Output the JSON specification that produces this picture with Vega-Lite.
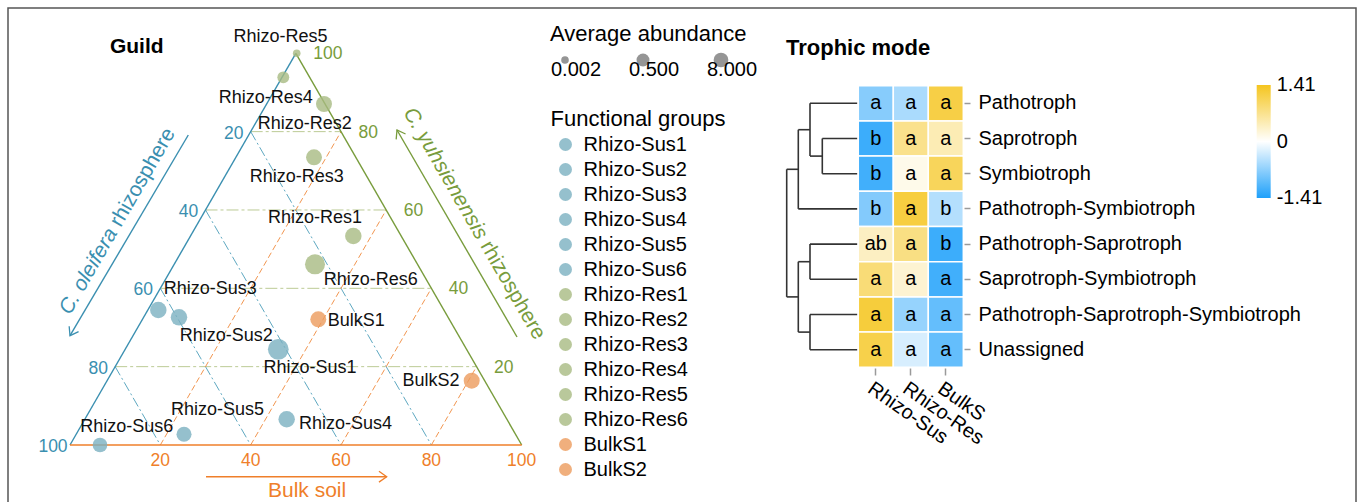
{
  "$schema": "https://vega.github.io/schema/vega-lite/v6.json",
  "width": 1360,
  "height": 502,
  "autosize": {"type": "fit", "contains": "padding"},
  "padding": {"left": 8, "top": 8, "right": 4, "bottom": -3},
  "background": "white",
  "config": {
    "font": "Liberation Sans",
    "view": {"stroke": "#555555", "strokeWidth": 1.5},
    "legend": {"symbolBaseFillColor": "#5a5a5a", "symbolBaseStrokeColor": "transparent"}
  },
  "datasets": {
    "lines": [
      {"kind": "h", "x": 10, "y": 20, "x2": 90, "y2": 20},
      {"kind": "h", "x": 20, "y": 40, "x2": 80, "y2": 40},
      {"kind": "h", "x": 30, "y": 60, "x2": 70, "y2": 60},
      {"kind": "h", "x": 40, "y": 80, "x2": 60, "y2": 80},
      {"kind": "b", "x": 40, "y": 80, "x2": 80, "y2": 0},
      {"kind": "b", "x": 30, "y": 60, "x2": 60, "y2": 0},
      {"kind": "b", "x": 20, "y": 40, "x2": 40, "y2": 0},
      {"kind": "b", "x": 10, "y": 20, "x2": 20, "y2": 0},
      {"kind": "o", "x": 20, "y": 0, "x2": 60, "y2": 80},
      {"kind": "o", "x": 40, "y": 0, "x2": 70, "y2": 60},
      {"kind": "o", "x": 60, "y": 0, "x2": 80, "y2": 40},
      {"kind": "o", "x": 80, "y": 0, "x2": 90, "y2": 20},
      {"kind": "eL", "x": 0, "y": 0, "x2": 50, "y2": 100},
      {"kind": "eR", "x": 50, "y": 100, "x2": 100, "y2": 0},
      {"kind": "eB", "x": 0, "y": 0, "x2": 100, "y2": 0},
      {"kind": "aO", "x": 26.19, "y": 79.14, "x2": 0, "y2": 27.9},
      {"kind": "aY", "x": 98.96, "y": 27.57, "x2": 72.39, "y2": 80.42},
      {"kind": "aB", "x": 30.11, "y": -8.09, "x2": 70.11, "y2": -8.09}
    ],
    "heads": [
      {"kind": "aO", "x": 0, "y": 27.9},
      {"kind": "aY", "x": 72.39, "y": 80.42},
      {"kind": "aB", "x": 70.11, "y": -8.09}
    ],
    "pts": [
      {"group": "Rhizo-Sus1", "x": 46.11, "y": 24.43, "abundance": 30},
      {"group": "Rhizo-Sus2", "x": 24.13, "y": 32.6, "abundance": 13.7},
      {"group": "Rhizo-Sus3", "x": 19.55, "y": 34.47, "abundance": 13.7},
      {"group": "Rhizo-Sus4", "x": 47.97, "y": 6.56, "abundance": 13.7},
      {"group": "Rhizo-Sus5", "x": 25.24, "y": 2.73, "abundance": 9.1},
      {"group": "Rhizo-Sus6", "x": 6.64, "y": 0, "abundance": 8},
      {"group": "Rhizo-Res1", "x": 62.72, "y": 53.36, "abundance": 13.7},
      {"group": "Rhizo-Res2", "x": 56.23, "y": 87.06, "abundance": 12},
      {"group": "Rhizo-Res3", "x": 54.02, "y": 73.45, "abundance": 12},
      {"group": "Rhizo-Res4", "x": 47.22, "y": 93.87, "abundance": 0.38},
      {"group": "Rhizo-Res5", "x": 50.19, "y": 100, "abundance": 0.002},
      {"group": "Rhizo-Res6", "x": 54.24, "y": 46.13, "abundance": 27},
      {"group": "BulkS1", "x": 54.97, "y": 32.09, "abundance": 12},
      {"group": "BulkS2", "x": 88.93, "y": 16.42, "abundance": 12}
    ],
    "plabels": [
      {"label": "Rhizo-Res5", "x": 46.6, "y": 104.24},
      {"label": "Rhizo-Res4", "x": 43.35, "y": 88.51},
      {"label": "Rhizo-Res2", "x": 51.98, "y": 81.95},
      {"label": "Rhizo-Res3", "x": 50.19, "y": 68.5},
      {"label": "Rhizo-Res1", "x": 54.24, "y": 57.88},
      {"label": "Rhizo-Res6", "x": 66.59, "y": 42.12},
      {"label": "BulkS1", "x": 63.36, "y": 31.66},
      {"label": "BulkS2", "x": 79.92, "y": 16.42},
      {"label": "Rhizo-Sus3", "x": 31.06, "y": 39.83},
      {"label": "Rhizo-Sus2", "x": 34.6, "y": 27.83},
      {"label": "Rhizo-Sus1", "x": 53.13, "y": 19.58},
      {"label": "Rhizo-Sus5", "x": 32.65, "y": 8.94},
      {"label": "Rhizo-Sus4", "x": 60.99, "y": 5.36},
      {"label": "Rhizo-Sus6", "x": 12.55, "y": 4.67}
    ],
    "tlabels": [
      {"axis": "ole", "label": "20", "x": 40, "y": 80},
      {"axis": "ole", "label": "40", "x": 30, "y": 60},
      {"axis": "ole", "label": "60", "x": 20, "y": 40},
      {"axis": "ole", "label": "80", "x": 10, "y": 20},
      {"axis": "ole", "label": "100", "x": 0, "y": 0},
      {"axis": "yuh", "label": "100", "x": 50, "y": 100},
      {"axis": "yuh", "label": "80", "x": 60, "y": 80},
      {"axis": "yuh", "label": "60", "x": 70, "y": 60},
      {"axis": "yuh", "label": "40", "x": 80, "y": 40},
      {"axis": "yuh", "label": "20", "x": 90, "y": 20},
      {"axis": "bulk", "label": "20", "x": 20, "y": 0},
      {"axis": "bulk", "label": "40", "x": 40, "y": 0},
      {"axis": "bulk", "label": "60", "x": 60, "y": 0},
      {"axis": "bulk", "label": "80", "x": 80, "y": 0},
      {"axis": "bulk", "label": "100", "x": 100, "y": 0}
    ],
    "titles": [
      {"kind": "guild", "label": "Guild", "x": 14.77, "y": 101.69},
      {"kind": "ole1", "label": "C. oleifera", "x": -1.15, "y": 33.75},
      {"kind": "ole2", "label": "rhizosphere", "x": 10.1, "y": 56.19},
      {"kind": "yuh1", "label": "C. yuhsienensis", "x": 74.87, "y": 85.68},
      {"kind": "yuh2", "label": "rhizosphere", "x": 91.92, "y": 51.62},
      {"kind": "bulk", "label": "Bulk soil", "x": 43.83, "y": -11.67}
    ],
    "dendro": [
      {"h": 0, "p": 1, "h2": 4.73, "p2": 1},
      {"h": 0, "p": 2, "h2": 3.5, "p2": 2},
      {"h": 0, "p": 3, "h2": 3.5, "p2": 3},
      {"h": 0, "p": 4, "h2": 5.9, "p2": 4},
      {"h": 0, "p": 5, "h2": 4.73, "p2": 5},
      {"h": 0, "p": 6, "h2": 4.73, "p2": 6},
      {"h": 0, "p": 7, "h2": 4.73, "p2": 7},
      {"h": 0, "p": 8, "h2": 4.73, "p2": 8},
      {"h": 3.5, "p": 2, "h2": 3.5, "p2": 3},
      {"h": 4.73, "p": 1, "h2": 4.73, "p2": 2.5},
      {"h": 5.9, "p": 1.75, "h2": 5.9, "p2": 4},
      {"h": 4.73, "p": 5, "h2": 4.73, "p2": 6},
      {"h": 4.73, "p": 7, "h2": 4.73, "p2": 8},
      {"h": 5.9, "p": 5.5, "h2": 5.9, "p2": 7.5},
      {"h": 7.06, "p": 2.875, "h2": 7.06, "p2": 6.5},
      {"h": 3.5, "p": 2.5, "h2": 4.73, "p2": 2.5},
      {"h": 4.73, "p": 1.75, "h2": 5.9, "p2": 1.75},
      {"h": 5.9, "p": 2.875, "h2": 7.06, "p2": 2.875},
      {"h": 4.73, "p": 5.5, "h2": 5.9, "p2": 5.5},
      {"h": 4.73, "p": 7.5, "h2": 5.9, "p2": 7.5},
      {"h": 5.9, "p": 6.5, "h2": 7.06, "p2": 6.5}
    ],
    "heat": [
      {"trophic": "Pathotroph", "group": "Rhizo-Sus", "z": -0.75, "letter": "a"},
      {"trophic": "Pathotroph", "group": "Rhizo-Res", "z": -0.53, "letter": "a"},
      {"trophic": "Pathotroph", "group": "BulkS", "z": 1.16, "letter": "a"},
      {"trophic": "Saprotroph", "group": "Rhizo-Sus", "z": -1.22, "letter": "b"},
      {"trophic": "Saprotroph", "group": "Rhizo-Res", "z": 0.72, "letter": "a"},
      {"trophic": "Saprotroph", "group": "BulkS", "z": 0.47, "letter": "a"},
      {"trophic": "Symbiotroph", "group": "Rhizo-Sus", "z": -1.19, "letter": "b"},
      {"trophic": "Symbiotroph", "group": "Rhizo-Res", "z": 0.13, "letter": "a"},
      {"trophic": "Symbiotroph", "group": "BulkS", "z": 1.03, "letter": "a"},
      {"trophic": "Pathotroph-Symbiotroph", "group": "Rhizo-Sus", "z": -0.78, "letter": "b"},
      {"trophic": "Pathotroph-Symbiotroph", "group": "Rhizo-Res", "z": 1.19, "letter": "a"},
      {"trophic": "Pathotroph-Symbiotroph", "group": "BulkS", "z": -0.47, "letter": "b"},
      {"trophic": "Pathotroph-Saprotroph", "group": "Rhizo-Sus", "z": 0.38, "letter": "ab"},
      {"trophic": "Pathotroph-Saprotroph", "group": "Rhizo-Res", "z": 0.78, "letter": "a"},
      {"trophic": "Pathotroph-Saprotroph", "group": "BulkS", "z": -1.22, "letter": "b"},
      {"trophic": "Saprotroph-Symbiotroph", "group": "Rhizo-Sus", "z": 0.85, "letter": "a"},
      {"trophic": "Saprotroph-Symbiotroph", "group": "Rhizo-Res", "z": 0.28, "letter": "a"},
      {"trophic": "Saprotroph-Symbiotroph", "group": "BulkS", "z": -1.19, "letter": "a"},
      {"trophic": "Pathotroph-Saprotroph-Symbiotroph", "group": "Rhizo-Sus", "z": 1.22, "letter": "a"},
      {"trophic": "Pathotroph-Saprotroph-Symbiotroph", "group": "Rhizo-Res", "z": -0.66, "letter": "a"},
      {"trophic": "Pathotroph-Saprotroph-Symbiotroph", "group": "BulkS", "z": -0.97, "letter": "a"},
      {"trophic": "Unassigned", "group": "Rhizo-Sus", "z": 1.13, "letter": "a"},
      {"trophic": "Unassigned", "group": "Rhizo-Res", "z": -0.25, "letter": "a"},
      {"trophic": "Unassigned", "group": "BulkS", "z": -0.97, "letter": "a"}
    ]
  },
  "layer": [
    {
      "encoding": {
        "x": {"field": "x", "type": "quantitative", "scale": {"domain": [-13.726, 284.7], "nice": false, "zero": false}, "axis": null},
        "y": {"field": "y", "type": "quantitative", "scale": {"domain": [-15.32, 111.565], "nice": false, "zero": false}, "axis": null}
      },
      "layer": [
        {"data": {"name": "lines"}, "transform": [{"filter": "datum.kind == 'h'"}], "mark": {"type": "rule", "color": "#bccb95", "strokeWidth": 1, "strokeDash": [12, 3, 3, 3]}, "encoding": {"x2": {"field": "x2"}, "y2": {"field": "y2"}}},
        {"data": {"name": "lines"}, "transform": [{"filter": "datum.kind == 'b'"}], "mark": {"type": "rule", "color": "#5ea8c1", "strokeWidth": 1, "strokeDash": [10, 3, 2, 3]}, "encoding": {"x2": {"field": "x2"}, "y2": {"field": "y2"}}},
        {"data": {"name": "lines"}, "transform": [{"filter": "datum.kind == 'o'"}], "mark": {"type": "rule", "color": "#f29650", "strokeWidth": 1, "strokeDash": [6, 3]}, "encoding": {"x2": {"field": "x2"}, "y2": {"field": "y2"}}},
        {"data": {"name": "lines"}, "transform": [{"filter": "datum.kind == 'eL' || datum.kind == 'aO'"}], "mark": {"type": "rule", "color": "#3a8fb0", "strokeWidth": 1.4}, "encoding": {"x2": {"field": "x2"}, "y2": {"field": "y2"}}},
        {"data": {"name": "lines"}, "transform": [{"filter": "datum.kind == 'eR' || datum.kind == 'aY'"}], "mark": {"type": "rule", "color": "#789c3c", "strokeWidth": 1.4}, "encoding": {"x2": {"field": "x2"}, "y2": {"field": "y2"}}},
        {"data": {"name": "lines"}, "transform": [{"filter": "datum.kind == 'eB' || datum.kind == 'aB'"}], "mark": {"type": "rule", "color": "#ef7f2a", "strokeWidth": 1.4}, "encoding": {"x2": {"field": "x2"}, "y2": {"field": "y2"}}},
        {"data": {"name": "heads"}, "transform": [{"filter": "datum.kind == 'aO'"}], "mark": {"type": "point", "shape": "M-1,-0.7L0,0L-1,0.7", "filled": false, "size": 240, "angle": 120, "color": "#3a8fb0", "strokeWidth": 1.3, "opacity": 1}},
        {"data": {"name": "heads"}, "transform": [{"filter": "datum.kind == 'aY'"}], "mark": {"type": "point", "shape": "M-1,-0.7L0,0L-1,0.7", "filled": false, "size": 240, "angle": 240, "color": "#789c3c", "strokeWidth": 1.3, "opacity": 1}},
        {"data": {"name": "heads"}, "transform": [{"filter": "datum.kind == 'aB'"}], "mark": {"type": "point", "shape": "M-1,-0.7L0,0L-1,0.7", "filled": false, "size": 240, "angle": 0, "color": "#ef7f2a", "strokeWidth": 1.3, "opacity": 1}},
        {
          "data": {"name": "pts"},
          "mark": {"type": "circle", "opacity": 0.8},
          "encoding": {
            "color": {
              "field": "group", "type": "nominal",
              "scale": {
                "domain": ["Rhizo-Sus1", "Rhizo-Sus2", "Rhizo-Sus3", "Rhizo-Sus4", "Rhizo-Sus5", "Rhizo-Sus6", "Rhizo-Res1", "Rhizo-Res2", "Rhizo-Res3", "Rhizo-Res4", "Rhizo-Res5", "Rhizo-Res6", "BulkS1", "BulkS2"],
                "range": ["#7bb0c0", "#7bb0c0", "#7bb0c0", "#7bb0c0", "#7bb0c0", "#7bb0c0", "#a8ba82", "#a8ba82", "#a8ba82", "#a8ba82", "#a8ba82", "#a8ba82", "#ec9b5c", "#ec9b5c"]
              },
              "legend": {
                "title": "Functional groups", "orient": "none", "legendX": 542.5, "legendY": 100.5,
                "titleFontSize": 22, "titleFontWeight": "normal", "titleColor": "#000000", "titlePadding": 4, "titleLimit": 400,
                "labelFontSize": 20, "labelColor": "#000000", "labelOffset": 8,
                "symbolSize": 168, "symbolType": "circle", "symbolStrokeWidth": 0, "symbolOffset": 5, "rowPadding": 5, "padding": 0
              }
            },
            "size": {
              "field": "abundance", "type": "quantitative",
              "scale": {"domain": [0.002, 0.5, 8, 30], "range": [58, 167, 216, 430]},
              "legend": {
                "title": "Average abundance", "values": [0.002, 0.5, 8], "format": ".3f",
                "orient": "none", "legendX": 542, "legendY": 16, "direction": "horizontal",
                "titleFontSize": 22, "titleFontWeight": "normal", "titleColor": "#000000", "titlePadding": 4, "titleLimit": 400,
                "labelFontSize": 20, "labelColor": "#000000", "labelAlign": "center", "labelBaseline": "top", "labelOffset": 1,
                "columnPadding": 26, "symbolOffset": 5, "padding": 0
              }
            }
          }
        },
        {"data": {"name": "plabels"}, "mark": {"type": "text", "fontSize": 18, "color": "#111111", "align": "center", "baseline": "middle"}, "encoding": {"text": {"field": "label"}}},
        {"data": {"name": "tlabels"}, "transform": [{"filter": "datum.axis == 'ole'"}], "mark": {"type": "text", "fontSize": 17.5, "color": "#3a8fb0", "align": "center", "baseline": "middle", "dx": -17, "dy": 2}, "encoding": {"text": {"field": "label"}}},
        {"data": {"name": "tlabels"}, "transform": [{"filter": "datum.axis == 'yuh'"}], "mark": {"type": "text", "fontSize": 17.5, "color": "#789c3c", "align": "left", "baseline": "middle", "dx": 17.5, "dy": 1}, "encoding": {"text": {"field": "label"}}},
        {"data": {"name": "tlabels"}, "transform": [{"filter": "datum.axis == 'bulk'"}], "mark": {"type": "text", "fontSize": 17.5, "color": "#ef7f2a", "align": "center", "baseline": "middle", "dy": 16}, "encoding": {"text": {"field": "label"}}},
        {"data": {"name": "titles"}, "transform": [{"filter": "datum.kind == 'guild'"}], "mark": {"type": "text", "fontSize": 21, "fontWeight": "bold", "color": "#000000", "align": "center", "baseline": "middle"}, "encoding": {"text": {"field": "label"}}},
        {"data": {"name": "titles"}, "transform": [{"filter": "datum.kind == 'ole1'"}], "mark": {"type": "text", "fontSize": 21, "fontStyle": "italic", "color": "#3a8fb0", "align": "left", "baseline": "middle", "angle": 300}, "encoding": {"text": {"field": "label"}}},
        {"data": {"name": "titles"}, "transform": [{"filter": "datum.kind == 'ole2'"}], "mark": {"type": "text", "fontSize": 21, "color": "#3a8fb0", "align": "left", "baseline": "middle", "angle": 300}, "encoding": {"text": {"field": "label"}}},
        {"data": {"name": "titles"}, "transform": [{"filter": "datum.kind == 'yuh1'"}], "mark": {"type": "text", "fontSize": 21, "fontStyle": "italic", "color": "#789c3c", "align": "left", "baseline": "middle", "angle": 60}, "encoding": {"text": {"field": "label"}}},
        {"data": {"name": "titles"}, "transform": [{"filter": "datum.kind == 'yuh2'"}], "mark": {"type": "text", "fontSize": 21, "color": "#789c3c", "align": "left", "baseline": "middle", "angle": 60}, "encoding": {"text": {"field": "label"}}},
        {"data": {"name": "titles"}, "transform": [{"filter": "datum.kind == 'bulk'"}], "mark": {"type": "text", "fontSize": 21, "color": "#ef7f2a", "align": "left", "baseline": "middle"}, "encoding": {"text": {"field": "label"}}}
      ]
    },
    {
      "encoding": {
        "x": {"field": "h", "type": "quantitative", "scale": {"domain": [-49.87, 84.93], "reverse": true, "nice": false, "zero": false}, "axis": null},
        "y": {"field": "p", "type": "quantitative", "scale": {"domain": [-1.7074, 12.412], "reverse": true, "nice": false, "zero": false}, "axis": null}
      },
      "layer": [
        {"data": {"name": "dendro"}, "mark": {"type": "rule", "color": "#333333", "strokeWidth": 1.6}, "encoding": {"x2": {"field": "h2"}, "y2": {"field": "p2"}}},
        {"data": {"values": [{"h": 7.13, "p": -0.585, "label": "Trophic mode"}]}, "mark": {"type": "text", "fontSize": 22, "fontWeight": "bold", "color": "#000000", "align": "left", "baseline": "middle"}, "encoding": {"text": {"field": "label"}}}
      ]
    },
    {
      "data": {"name": "heat"},
      "encoding": {
        "x": {
          "field": "group", "type": "nominal",
          "scale": {"domain": ["Rhizo-Sus", "Rhizo-Res", "BulkS"], "range": [850.3, 955.3], "paddingInner": 0, "paddingOuter": 0},
          "axis": {"orient": "bottom", "offset": -137, "title": null, "domain": false, "ticks": true, "tickSize": 7, "tickWidth": 1.5, "tickColor": "#9a9a9a", "labelAngle": 35, "labelAlign": "left", "labelBaseline": "top", "labelPadding": 3, "labelFontSize": 20, "labelColor": "#000000", "labelLimit": 400, "grid": false}
        },
        "y": {
          "field": "trophic", "type": "nominal",
          "scale": {"domain": ["Pathotroph", "Saprotroph", "Symbiotroph", "Pathotroph-Symbiotroph", "Pathotroph-Saprotroph", "Saprotroph-Symbiotroph", "Pathotroph-Saprotroph-Symbiotroph", "Unassigned"], "range": [77.7, 359.3], "paddingInner": 0, "paddingOuter": 0},
          "axis": {"orient": "right", "offset": -392, "title": null, "domain": false, "ticks": true, "tickSize": 6, "tickWidth": 1.5, "tickColor": "#9a9a9a", "labelPadding": 8, "labelFontSize": 20, "labelColor": "#000000", "labelLimit": 500, "grid": false}
        }
      },
      "layer": [
        {
          "mark": {"type": "rect", "stroke": "#ffffff", "strokeWidth": 1.5},
          "encoding": {
            "color": {
              "field": "z", "type": "quantitative",
              "scale": {"domain": [-1.41, 0, 1.41], "range": ["#1ea0fa", "#ffffff", "#f5c51e"], "interpolate": "rgb"},
              "legend": {
                "title": null, "orient": "none", "legendX": 1248.7, "legendY": 77, "direction": "vertical",
                "gradientLength": 113, "gradientThickness": 14, "gradientStrokeWidth": 0,
                "values": [-1.409, 0, 1.409], "labelOverlap": false,
                "labelExpr": "datum.value == 0 ? '0' : (datum.value < 0 ? '-' : '') + format(abs(datum.value), '.2f')",
                "labelFontSize": 20, "labelColor": "#000000", "labelOffset": 6, "padding": 0
              }
            }
          }
        },
        {"mark": {"type": "text", "fontSize": 20, "color": "#000000", "baseline": "middle"}, "encoding": {"text": {"field": "letter"}}}
      ]
    }
  ],
  "resolve": {
    "scale": {"x": "independent", "y": "independent", "color": "independent", "size": "independent"},
    "legend": {"color": "independent", "size": "independent"},
    "axis": {"x": "independent", "y": "independent"}
  }
}
